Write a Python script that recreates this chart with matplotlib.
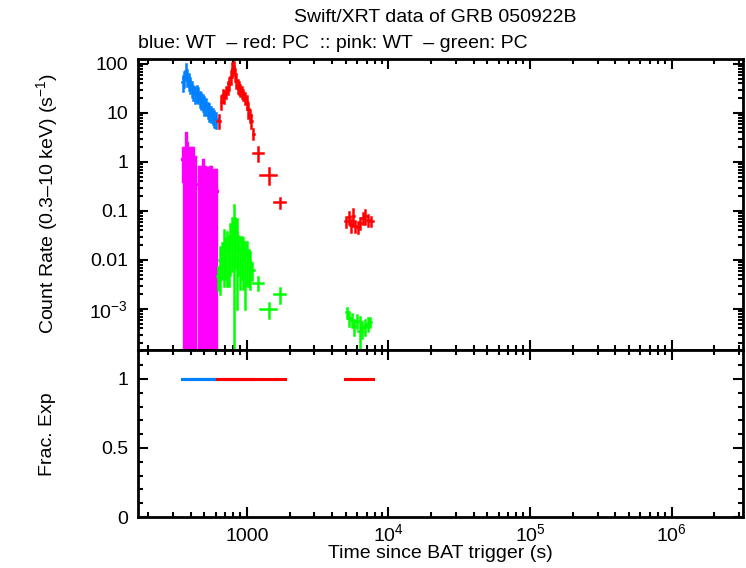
import numpy as np
import matplotlib
matplotlib.use('Agg')
from matplotlib import pyplot as plt
from matplotlib.ticker import LogLocator, FixedLocator, MultipleLocator, NullFormatter, FixedFormatter

# ---- WT mode, 0.3-10 keV (blue) ----
wt_t = [351.5, 360.5, 369.5, 378.5, 388, 398, 408, 418.5, 429.5, 440.5, 452,
        464, 476, 488.5, 501.5, 515, 529, 543.5, 558.5, 574, 590, 606]
wt_dt = [4.5, 4.5, 4.5, 4.5, 5, 5, 5, 5.5, 5.5, 5.5, 6,
         6, 6, 6.5, 6.5, 7, 7, 7.5, 7.5, 8, 8, 8]
wt_rate = [42, 52, 72, 55, 45, 38, 32, 27, 25, 26, 24,
           20, 19, 17, 15, 14, 12, 11, 10, 9, 8, 7.5]
wt_err = [14, 18, 26, 20, 16, 13, 11, 9, 9, 9, 8,
          7, 7, 6, 6, 5, 4, 4, 3.5, 3, 2.8, 2.5]

# ---- PC mode, 0.3-10 keV (red) ----
pc_t = [632, 660, 676, 693, 711, 730, 749, 769, 788, 805, 822, 840, 859, 879,
        900, 922, 945, 969, 994, 1020, 1047, 1075, 1110,
        1196, 1430, 1700,
        5050, 5250, 5450, 5650, 5850, 6075, 6325, 6575, 6850, 7150, 7550]
pc_dt = [18, 8, 8, 9, 9, 9, 10, 10, 9, 8, 9, 9, 10, 10,
         11, 11, 12, 12, 13, 13, 14, 14, 9,
         95, 185, 150,
         100, 100, 100, 100, 100, 125, 125, 125, 150, 150, 250]
pc_rate = [7, 17, 23, 22, 27, 33, 40, 55, 80, 88, 62, 45, 36, 33,
           30, 27, 24, 20, 17, 12, 9, 7, 3.8,
           1.55, 0.55, 0.15,
           0.062, 0.075, 0.052, 0.08, 0.05, 0.048, 0.058, 0.072, 0.08, 0.065, 0.062]
pc_err = [2, 5, 6, 6, 7, 9, 11, 16, 22, 22, 17, 12, 10, 9,
          8, 7, 6, 5, 5, 4, 2.5, 2, 0.8,
          0.5, 0.19, 0.035,
          0.015, 0.02, 0.014, 0.03, 0.013, 0.012, 0.015, 0.018, 0.025, 0.016, 0.012]

# ---- WT mode, second band (pink) ----
wt2_t = [352, 361, 369, 377, 386, 396, 406, 416, 427,
         456, 467, 479, 491, 503, 516, 530, 545, 561, 577, 594, 606]
wt2_dt = [4.5, 4, 4, 4, 5, 5, 5, 5, 6,
          5, 6, 6, 6, 6, 7, 7, 8, 8, 8, 9, 6]
wt2_rate = [1.15, 0.9, 1.7, 1.0, 0.8, 0.9, 0.7, 0.8, 0.5,
            0.35, 0.3, 0.35, 0.45, 0.3, 0.35, 0.3, 0.35, 0.3, 0.25, 0.3, 0.25]
wt2_err = [0.75, 1.0, 2.2, 1.4, 1.1, 1.0, 1.2, 1.1, 0.75,
           0.45, 0.5, 0.45, 0.65, 0.5, 0.4, 0.45, 0.45, 0.5, 0.45, 0.4, 0.45]

# ---- PC mode, second band (green) ----
pc2_t = [625, 645, 665, 685, 705, 725, 745, 765, 785, 805, 825, 845, 870, 895,
         920, 945, 970, 1000, 1030, 1060, 1095,
         1196, 1430, 1700,
         5100, 5300, 5500, 5700, 5950, 6250, 6550, 6850, 7150, 7400]
pc2_dt = [10, 10, 10, 10, 10, 10, 10, 10, 10, 10, 10, 10, 15, 10,
          15, 10, 15, 15, 15, 15, 20,
          95, 185, 150,
          120, 100, 100, 100, 150, 150, 150, 150, 150, 100]
pc2_rate = [0.0048, 0.010, 0.013, 0.022, 0.016, 0.02, 0.017, 0.03, 0.039, 0.06,
            0.04, 0.035, 0.018, 0.016, 0.017, 0.015, 0.012, 0.013, 0.0095, 0.0085, 0.0063,
            0.0034, 0.001, 0.002,
            0.00085, 0.00065, 0.0006, 0.00045, 0.00058, 0.00035, 0.0004, 0.00045, 0.0005, 0.00055]
pc2_err = [0.0024, 0.008, 0.009, 0.019, 0.012, 0.017, 0.014, 0.025, 0.033, 0.07,
           0.033, 0.034, 0.013, 0.0135, 0.013, 0.0125, 0.011, 0.010, 0.0065, 0.006, 0.0024,
           0.001, 0.00033, 0.0007,
           0.0002, 0.0002, 0.00018, 0.00015, 0.00018, 0.00035, 0.00015, 0.00015, 0.00015, 0.00012]

# fractional exposure of each bin
wt_frac = [1.0] * len(wt_t)
pc_frac = [1.0] * len(pc_t)

BLUE = '#0080ff'
RED = '#ff0000'
PINK = '#ff00ff'
GREEN = '#00ff00'

plt.rcParams['font.family'] = ['Liberation Sans', 'DejaVu Sans']
plt.rcParams['mathtext.fontset'] = 'custom'
plt.rcParams['mathtext.rm'] = 'Liberation Sans'
plt.rcParams['mathtext.it'] = 'Liberation Sans:italic'
plt.rcParams['font.size'] = 14


def yerr_clip(rate, err, floor=1e-7):
    rate = np.asarray(rate, dtype=float)
    err = np.asarray(err, dtype=float)
    lo = np.minimum(err, rate - floor)
    return [lo, err]


def draw(ax, t, dt, rate, err, color, lw):
    eb = ax.errorbar(t, rate, xerr=dt, yerr=yerr_clip(rate, err), fmt='none',
                     ecolor=color, elinewidth=lw, capsize=0)
    for lc in eb.lines[2]:
        lc.set_capstyle('projecting')


fig = plt.figure(figsize=(7.46, 5.68), dpi=100)
ax1 = fig.add_axes([138 / 746, 1 - 350 / 568, 605 / 746, 291 / 568])
ax2 = fig.add_axes([138 / 746, 1 - 517 / 568, 605 / 746, 167 / 568])

draw(ax1, wt_t, wt_dt, wt_rate, wt_err, BLUE, 1.8)
draw(ax1, pc_t, pc_dt, pc_rate, pc_err, RED, 1.8)
draw(ax1, wt2_t, wt2_dt, wt2_rate, wt2_err, PINK, 2.4)
draw(ax1, pc2_t, pc2_dt, pc2_rate, pc2_err, GREEN, 1.8)

for t, dt, frac, c in [(wt_t, wt_dt, wt_frac, BLUE), (pc_t, pc_dt, pc_frac, RED)]:
    eb = ax2.errorbar(t, frac, xerr=dt, fmt='none', ecolor=c, elinewidth=2.2)
    for lc in eb.lines[2]:
        lc.set_capstyle('projecting')

xlim = (170, 3.2e6)
for ax in (ax1, ax2):
    ax.set_xscale('log')
    ax.set_xlim(*xlim)
    ax.xaxis.set_major_locator(FixedLocator([1e3, 1e4, 1e5, 1e6]))
    ax.xaxis.set_minor_locator(LogLocator(base=10, subs=np.arange(2, 10), numticks=20))
    ax.xaxis.set_minor_formatter(NullFormatter())
    ax.tick_params(which='both', direction='in', top=True, right=True, width=1.5)
    ax.tick_params(which='major', length=7, pad=7)
    ax.tick_params(which='minor', length=3.5)
    for s in ax.spines.values():
        s.set_linewidth(2)

ax1.set_yscale('log')
ax1.set_ylim(1.456e-4, 126)
ax1.yaxis.set_major_locator(FixedLocator([1e-3, 1e-2, 1e-1, 1, 10, 100]))
ax1.yaxis.set_major_formatter(FixedFormatter(['$\\mathregular{10^{-3}}$', '0.01', '0.1', '1', '10', '100']))
ax1.yaxis.set_minor_locator(LogLocator(base=10, subs=np.arange(2, 10), numticks=20))
ax1.yaxis.set_minor_formatter(NullFormatter())
ax1.xaxis.set_major_formatter(NullFormatter())

ax2.set_ylim(0, 1.21)
ax2.yaxis.set_major_locator(FixedLocator([0, 0.5, 1]))
ax2.yaxis.set_major_formatter(FixedFormatter(['0', '0.5', '1']))
ax2.yaxis.set_minor_locator(MultipleLocator(0.1))
ax2.xaxis.set_major_formatter(FixedFormatter(['1000', '$\\mathregular{10^{4}}$',
                                              '$\\mathregular{10^{5}}$', '$\\mathregular{10^{6}}$']))
# put all x tick labels on a common baseline, as in the original
ax2.tick_params(axis='x', which='major', pad=17)
plt.setp(ax2.get_xticklabels(), va='baseline')

fig.text(435 / 746, 1 - 17 / 568, 'Swift/XRT data of GRB 050922B', ha='center', va='center')
fig.text(138 / 746, 1 - 43 / 568, 'blue: WT  \u2013 red: PC  :: pink: WT  \u2013 green: PC',
         ha='left', va='center')
fig.text(47 / 746, 1 - 204 / 568, 'Count Rate (0.3\u201310 keV) (s$^{-1}$)',
         rotation=90, ha='center', va='center')
fig.text(47 / 746, 1 - 434 / 568, 'Frac. Exp', rotation=90, ha='center', va='center')
fig.text(440 / 746, 1 - 554 / 568, 'Time since BAT trigger (s)', ha='center', va='center')

fig.savefig('out.png', dpi=100)
